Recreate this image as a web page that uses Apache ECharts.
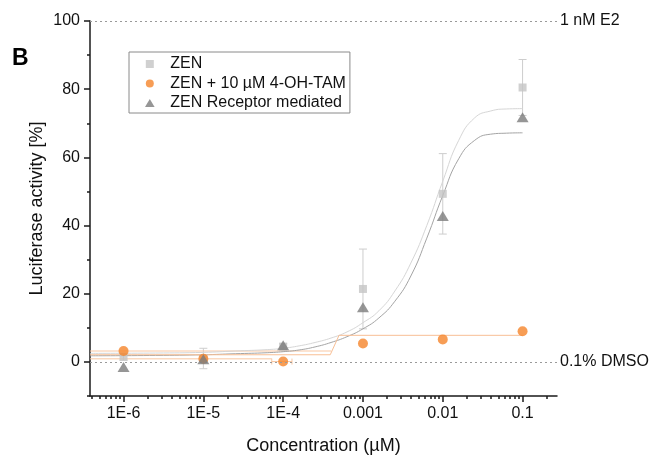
<!DOCTYPE html>
<html>
<head>
<meta charset="utf-8">
<script src="https://cdn.jsdelivr.net/npm/echarts@6/dist/echarts.min.js"></script>
<style>
  html, body { margin: 0; padding: 0; background: #fff; }
  #chart { width: 658px; height: 455px; }
</style>
</head>
<body>
<div id="chart"></div>
<script>
// measured points (concentration in µM, activity in %)
const concentrations = [1e-6, 1e-5, 1e-4, 1e-3, 1e-2, 1e-1];
const xTickLabels = ['1E-6', '1E-5', '1E-4', '0.001', '0.01', '0.1'];
const yTickValues = [0, 20, 40, 60, 80, 100];
const yMinorTicks = [-10, 10, 30, 50, 70, 90];

const zenMean = [1.5, 1.0, 4.5, 21.4, 49.3, 80.5];
const zenSd = [1.0, 3.0, 0.8, 11.7, 11.8, 8.2];
const tamMean = [3.2, 0.9, 0.1, 5.4, 6.6, 9.0];
const receptorMean = [-1.5, 0.8, 4.9, 16.0, 42.8, 71.8];

// horizontal (x) error segments of the TAM series: [y, low conc, high conc, caps]
const tamXErr = [
  [3.2, 3.8e-7, 4.0e-4, 0],
  [0.9, 3.8e-7, 7.2e-5, 0],
  [0.1, 7.2e-5, 1.29e-4, 1]
];

// fitted curves (log10 conc, %)
const zenFitLogC = [-6.42, -5.6, -5.0, -4.6, -4.2, -4.0, -3.8, -3.6, -3.4, -3.2, -3.0, -2.8, -2.6, -2.4, -2.2, -2.0, -1.8, -1.6, -1.4, -1.2, -1.0];
const zenFitY = [2.5, 2.6, 2.8, 3.2, 3.6, 4.0, 4.7, 5.7, 7.0, 8.8, 11.5, 15.0, 20.8, 29.0, 40.0, 53.0, 65.0, 71.6, 73.6, 74.2, 74.3];
const recFitLogC = [-6.42, -5.6, -5.0, -4.6, -4.2, -4.0, -3.8, -3.6, -3.4, -3.2, -3.0, -2.8, -2.6, -2.4, -2.2, -2.0, -1.8, -1.6, -1.4, -1.2, -1.0];
const recFitY = [1.8, 1.9, 2.1, 2.4, 2.7, 3.0, 3.5, 4.4, 5.7, 7.4, 9.7, 12.9, 17.8, 25.2, 36.3, 48.8, 59.6, 65.0, 66.8, 67.1, 67.2];
const tamFitLogC = [-6.42, -3.41, -3.30, -1.0];
const tamFitY = [2.1, 2.1, 7.8, 7.8];

// reference levels
const refLevels = [100, 0];
const refLabels = ['1 nM E2', '0.1% DMSO'];

const xMin = Math.log10(3.8e-7);
const xMax = Math.log10(0.27);
const FONT = "'Liberation Sans', Arial, sans-serif";
const ORANGE = '#f5842a';

const logC = concentrations.map(c => Math.log10(c));
const majorX = logC.slice();
const minorX = [];
for (let d = -7; d <= -1; d++) {
  for (let k = 2; k <= 9; k++) {
    const v = Math.log10(k) + d;
    if (v >= xMin && v <= xMax) minorX.push(v);
  }
}

const pairs = (xs, ys) => xs.map((x, i) => [x, ys[i]]);

const chart = echarts.init(document.getElementById('chart'));

function renderYErr(params, api) {
  const x = api.value(0), y = api.value(1), e = api.value(2);
  const top = api.coord([x, y + e]);
  const bot = api.coord([x, y - e]);
  const style = { stroke: '#cdcdcd', lineWidth: 1 };
  return {
    type: 'group',
    children: [
      { type: 'line', shape: { x1: top[0], y1: top[1], x2: bot[0], y2: bot[1] }, style },
      { type: 'line', shape: { x1: top[0] - 4, y1: top[1], x2: top[0] + 4, y2: top[1] }, style },
      { type: 'line', shape: { x1: bot[0] - 4, y1: bot[1], x2: bot[0] + 4, y2: bot[1] }, style }
    ]
  };
}

function renderXErr(params, api) {
  const y = api.value(0);
  const a = api.coord([api.value(1), y]);
  const b = api.coord([api.value(2), y]);
  const style = { stroke: '#f9c7a2', lineWidth: 1 };
  const children = [{ type: 'line', shape: { x1: a[0], y1: a[1], x2: b[0], y2: b[1] }, style }];
  if (api.value(3)) {
    children.push({ type: 'line', shape: { x1: a[0], y1: a[1] - 3, x2: a[0], y2: a[1] + 3 }, style });
    children.push({ type: 'line', shape: { x1: b[0], y1: b[1] - 3, x2: b[0], y2: b[1] + 3 }, style });
  }
  return { type: 'group', children };
}

const axisLineStyle = { color: '#1a1a1a', width: 1.5 };

chart.setOption({
  animation: false,
  backgroundColor: '#fff',
  textStyle: { fontFamily: FONT },
  grid: { left: 90, right: 101, top: 21, bottom: 59, outerBoundsMode: 'none', containLabel: false },
  graphic: [{
    type: 'text', left: 12, top: 47,
    style: { text: 'B', font: 'bold 23px ' + FONT, fill: '#000' }
  }],
  legend: {
    left: 129, top: 52,
    orient: 'vertical',
    data: [
      { name: 'ZEN', icon: 'path://M0,0H10V10H0Z' },
      { name: 'ZEN + 10 µM 4-OH-TAM', icon: 'circle' },
      { name: 'ZEN Receptor mediated', icon: 'path://M6,0L12,10H0Z' }
    ],
    symbolKeepAspect: true,
    itemWidth: 31, itemHeight: 8, itemGap: 3.5,
    padding: [4, 4, 2, 16],
    borderColor: '#8a8a8a', borderWidth: 1, backgroundColor: '#fff',
    textStyle: { fontSize: 16, color: '#111', fontFamily: FONT }
  },
  xAxis: [{
    type: 'value', min: xMin, max: xMax, position: 'bottom',
    name: 'Concentration (µM)', nameLocation: 'middle', nameGap: 41,
    nameTextStyle: { fontSize: 18, color: '#111', fontFamily: FONT },
    axisLine: { show: true, onZero: false, lineStyle: axisLineStyle },
    axisTick: { show: true, customValues: majorX, length: 6, lineStyle: axisLineStyle },
    axisLabel: {
      customValues: majorX, margin: 10, fontSize: 16, color: '#111', fontFamily: FONT,
      formatter: v => xTickLabels[majorX.findIndex(m => Math.abs(m - v) < 1e-6)]
    },
    splitLine: { show: false }
  }, {
    type: 'value', min: xMin, max: xMax, position: 'bottom',
    axisLine: { show: false, onZero: false },
    axisTick: { show: true, customValues: minorX, length: 3, lineStyle: axisLineStyle },
    axisLabel: { show: false },
    splitLine: { show: false }
  }],
  yAxis: [{
    type: 'value', min: -10, max: 100, position: 'left',
    name: 'Luciferase activity [%]', nameLocation: 'middle', nameGap: 44, nameMoveOverlap: false,
    nameTextStyle: { fontSize: 18, color: '#111', fontFamily: FONT },
    axisLine: { show: true, onZero: false, lineStyle: axisLineStyle },
    axisTick: { show: true, customValues: yTickValues, length: 6, lineStyle: axisLineStyle },
    axisLabel: { customValues: yTickValues, margin: 10, fontSize: 16, color: '#111', fontFamily: FONT },
    splitLine: { show: false }
  }, {
    type: 'value', min: -10, max: 100, position: 'left',
    axisLine: { show: false, onZero: false },
    axisTick: { show: true, customValues: yMinorTicks, length: 3, lineStyle: axisLineStyle },
    axisLabel: { show: false },
    splitLine: { show: false }
  }],
  series: [
    {
      type: 'custom', name: 'zenErr', renderItem: renderYErr, silent: true, z: 1,
      data: logC.map((x, i) => [x, zenMean[i], zenSd[i]])
    },
    {
      type: 'custom', name: 'tamXErr', renderItem: renderXErr, silent: true, z: 1,
      data: tamXErr.map(r => [r[0], Math.log10(r[1]), Math.log10(r[2]), r[3]])
    },
    {
      type: 'line', name: 'zenFit', data: pairs(zenFitLogC, zenFitY),
      smooth: 0.5, showSymbol: false, silent: true, z: 2,
      lineStyle: { color: '#d6d6d6', width: 1 }
    },
    {
      type: 'line', name: 'recFit', data: pairs(recFitLogC, recFitY),
      smooth: 0.5, showSymbol: false, silent: true, z: 2,
      lineStyle: { color: '#a4a4a4', width: 1 }
    },
    {
      type: 'line', name: 'tamFit', data: pairs(tamFitLogC, tamFitY),
      showSymbol: false, silent: true, z: 2,
      lineStyle: { color: '#f8bf95', width: 1 }
    },
    {
      type: 'scatter', name: 'ZEN', symbol: 'rect', symbolSize: 8, z: 3,
      itemStyle: { color: '#c4c4c4' },
      data: pairs(logC, zenMean),
      markLine: {
        silent: true, symbol: 'none',
        lineStyle: { color: '#9a9a9a', type: [2, 3], width: 1.2 },
        label: { position: 'end', distance: 3, formatter: '{b}', fontSize: 16, color: '#111', fontFamily: FONT },
        data: refLevels.map((v, i) => ({ yAxis: v, name: refLabels[i] }))
      }
    },
    {
      type: 'scatter', name: 'ZEN + 10 µM 4-OH-TAM', symbol: 'circle', symbolSize: 10, z: 4,
      itemStyle: { color: ORANGE },
      data: pairs(logC, tamMean)
    },
    {
      type: 'scatter', name: 'ZEN Receptor mediated', symbol: 'triangle', symbolSize: [12, 10], z: 5,
      itemStyle: { color: '#7c7c7c' },
      data: pairs(logC, receptorMean)
    }
  ]
});
</script>
</body>
</html>
